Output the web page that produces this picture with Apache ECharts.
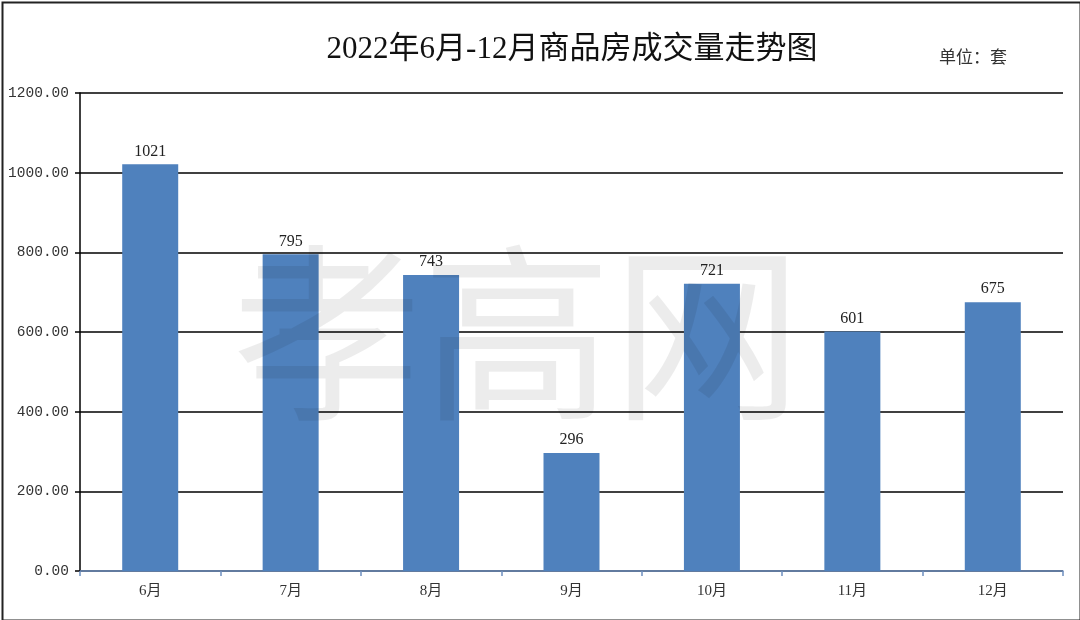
<!DOCTYPE html>
<html><head><meta charset="utf-8">
<script src="https://cdn.jsdelivr.net/npm/echarts@6/dist/echarts.min.js"></script>
<style>html,body{margin:0;padding:0;background:#fff}#c{width:1080px;height:620px}</style>
</head><body><div id="c"></div>
<script>
const titleText = '2022年6月-12月商品房成交量走势图';
const unitText = '单位：套';
const categories = ['6月','7月','8月','9月','10月','11月','12月'];
const values = [1021, 795, 743, 296, 721, 601, 675];
const yTicks = [0, 200, 400, 600, 800, 1000, 1200];

const chart = echarts.init(document.getElementById('c'));
chart.setOption({
  backgroundColor: '#fff',
  animation: false,
  title: [{
    text: titleText, left: 567, top: 29, textAlign: 'center',
    textStyle: {fontFamily: '"Liberation Serif","Noto Sans CJK SC",serif', fontSize: 31, fontWeight: 'normal', color: '#111'}
  }, {
    text: unitText, left: 934, top: 43,
    textStyle: {fontFamily: '"Noto Sans CJK SC",sans-serif', fontSize: 17, fontWeight: 'normal', color: '#333'}
  }],
  graphic: [{
    type: 'rect', left: 0, top: 0, z: 100, silent: true,
    shape: {width: 1078, height: 618},
    style: {fill: 'none', stroke: '#222', lineWidth: 2}
  }, {
    type: 'text', left: 232, top: 238, z: 50, silent: true,
    style: {text: '孝高网', font: '190px "Noto Sans CJK SC"', fill: 'rgba(0,0,0,0.075)'}
  }],
  grid: {left: 80, right: 17, top: 93, bottom: 49, containLabel: false},
  xAxis: {
    type: 'category', data: categories,
    axisLine: {lineStyle: {color: '#6E8FBF', width: 1.5}},
    axisTick: {show: true, alignWithLabel: false, length: 5, lineStyle: {color: '#6E8FBF', width: 1.5}},
    axisLabel: {margin: 13, fontSize: 15, color: '#333', fontFamily: '"Liberation Serif","Noto Sans CJK SC",serif'}
  },
  yAxis: {
    type: 'value', min: 0, max: 1200, interval: 200,
    axisLine: {show: true, lineStyle: {color: '#000', width: 1.5}},
    axisTick: {show: true, length: 5, lineStyle: {color: '#000', width: 1.5}},
    axisLabel: {margin: 11, fontSize: 14.5, color: '#333', fontFamily: '"Liberation Mono",monospace',
      formatter: v => yTicks.includes(v) ? v.toFixed(2) : ''},
    splitLine: {lineStyle: {color: '#000', width: 1.5}}
  },
  series: [{
    type: 'bar', data: values, barWidth: 56,
    itemStyle: {color: '#4F81BD'},
    label: {show: true, position: 'top', distance: 5, fontSize: 16, color: '#222',
      fontFamily: '"Liberation Serif",serif'}
  }]
});
</script></body></html>
